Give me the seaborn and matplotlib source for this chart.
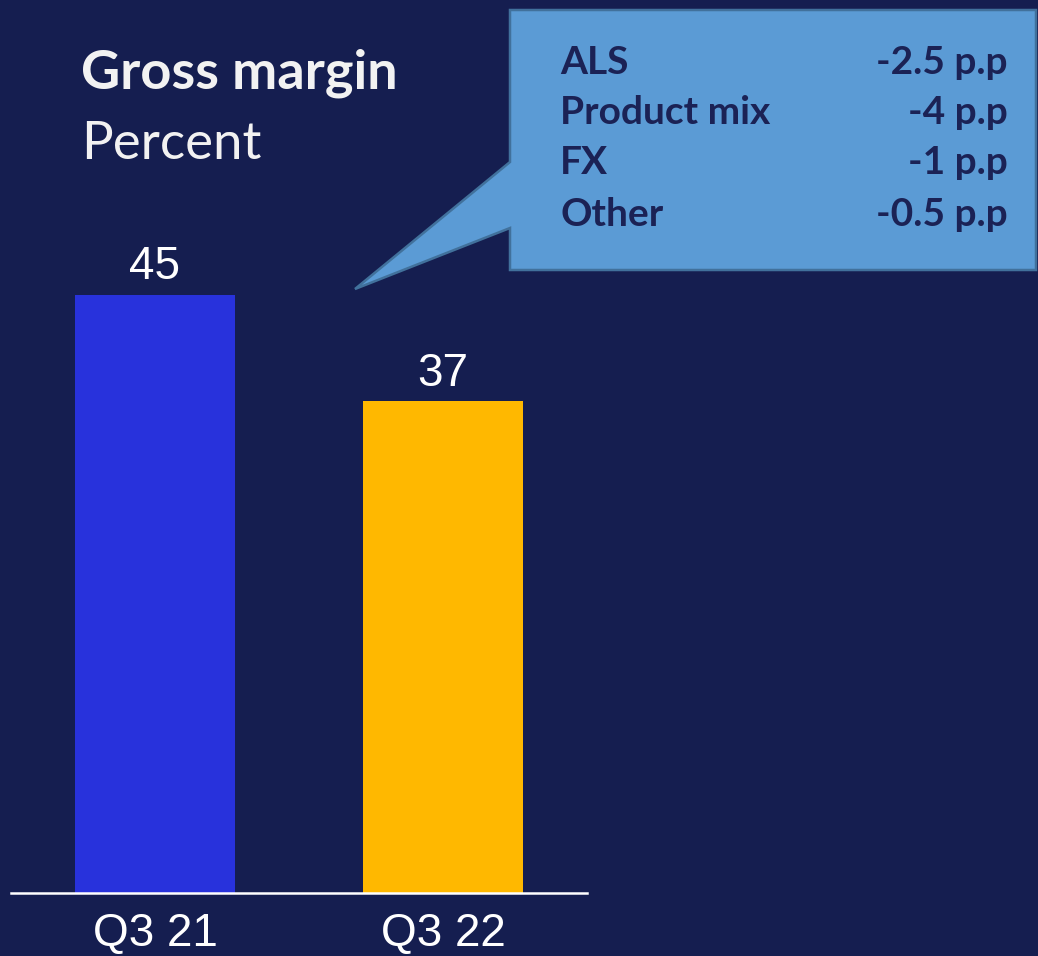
import matplotlib
matplotlib.use("Agg")
import matplotlib.pyplot as plt
from matplotlib.patches import Polygon
import seaborn as sns
import pandas as pd

# Gross margin by quarter
quarters = ["Q3 21", "Q3 22"]
margin_pct = [45, 37]
bar_colors = ["#2832DC", "#FFB800"]

# Drivers of the margin change
driver_names = ["ALS", "Product mix", "FX", "Other"]
driver_pp = [-2.5, -4, -1, -0.5]

BG = "#151E50"
W, H = 1038, 956

sns.set_theme(style="white")
plt.rcParams["font.family"] = ["Liberation Sans", "DejaVu Sans"]

fig = plt.figure(figsize=(W / 100, H / 100), dpi=100, facecolor=BG)
ax = fig.add_axes([11 / W, (H - 893) / H, 576 / W, 664.5 / H], facecolor=BG)

df = pd.DataFrame({"quarter": quarters, "margin": margin_pct})
sns.barplot(data=df, x="quarter", y="margin", hue="quarter",
            palette=dict(zip(quarters, bar_colors)), legend=False,
            width=0.556, saturation=1, linewidth=0, ax=ax)

ax.set_xlim(-0.5, 1.5)
ax.set_ylim(0, 50)
for c in ax.containers:
    ax.bar_label(c, labels=[f"{v:g}" for v in c.datavalues], padding=4,
                 fontsize=33, color="white")

ax.set_xlabel("")
ax.set_ylabel("")
ax.set_yticks([])
ax.tick_params(axis="x", length=0, pad=14, labelsize=33, labelcolor="white")
for s in ["top", "left", "right"]:
    ax.spines[s].set_visible(False)
ax.spines["bottom"].set_color("white")
ax.spines["bottom"].set_linewidth(1.8)

# Title block
fig.text(81 / W, 1 - 89 / H, "Gross margin", fontsize=39, fontweight="bold",
         color="#F2F2F2", family=["Lato", "DejaVu Sans"], va="baseline")
fig.text(81 / W, 1 - 159 / H, "Percent", fontsize=38,
         color="#F2F2F2", family=["Lato", "DejaVu Sans"], va="baseline")

# Callout box with pointer
px = [(510, 10), (1036, 10), (1036, 270), (510, 270), (510, 228),
      (355, 289), (510, 162)]
poly = Polygon([(x / W, 1 - y / H) for x, y in px], closed=True,
               transform=fig.transFigure, facecolor="#5B9BD5",
               edgecolor="#41719C", linewidth=1.8)
fig.add_artist(poly)

row_y = [62, 112, 163, 214]
for name, val, y in zip(driver_names, driver_pp, row_y):
    fig.text(560 / W, 1 - y / H, name, fontsize=28, fontweight="bold",
             color="#1B2255", family=["Lato", "DejaVu Sans"], va="center")
    fig.text(1008 / W, 1 - y / H, f"{val:g} p.p", fontsize=28,
             fontweight="bold", color="#1B2255",
             family=["Lato", "DejaVu Sans"], va="center", ha="right")

fig.savefig("out.png", dpi=100, facecolor=BG)
